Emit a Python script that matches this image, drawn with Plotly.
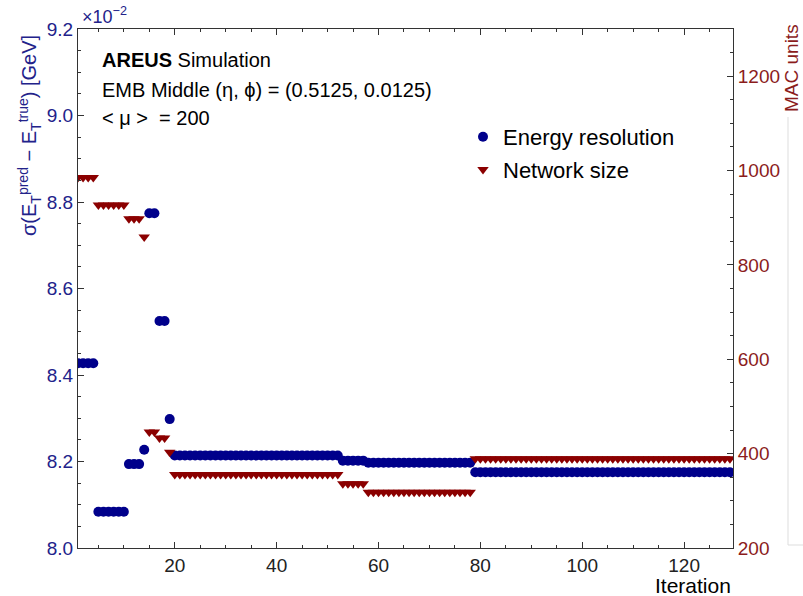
import plotly.graph_objects as go

# ---- data ----
# run-length pairs: (value, number of consecutive iterations)
resolution_runs = [(8.427, 4), (8.084, 6), (8.194, 3), (8.227, 1), (8.774, 2),
                   (8.525, 2), (8.298, 1), (8.214, 33), (8.202, 5), (8.197, 21),
                   (8.175, 51)]
network_runs = [(985, 4), (927, 6), (898, 3), (859, 1), (446, 2), (433, 2),
                (403, 1), (356, 33), (336, 5), (318, 21), (389, 51)]

def expand(runs):
    out = []
    for v, n in runs:
        out.extend([v] * n)
    return out

resolution = expand(resolution_runs)          # in units of 1e-2 GeV
network = expand(network_runs)                # MAC units
iterations = list(range(1, len(resolution) + 1))

x_ticks = [20, 40, 60, 80, 100, 120]
y_ticks = [8.0, 8.2, 8.4, 8.6, 8.8, 9.0, 9.2]
y2_ticks = [200, 400, 600, 800, 1000, 1200]

BLUE = "#00008b"
RED = "#8b0000"
BLUE_TXT = "#22228a"
RED_TXT = "#8b1c1c"
FONT = "Liberation Sans, Arial, Helvetica, sans-serif"

fig = go.Figure()
fig.add_trace(go.Scatter(
    x=iterations, y=resolution, mode="markers", name="Energy resolution",
    marker=dict(symbol="circle", size=10, color=BLUE, line=dict(width=0)),
    yaxis="y", legendgroup="a"))
fig.add_trace(go.Scatter(
    x=iterations, y=network, mode="markers", name="Network size",
    marker=dict(symbol="triangle-down", size=10, color=RED, line=dict(width=0)),
    yaxis="y2", legendgroup="b"))

L, R, T, B = 78, 70, 29, 48
W, H = 803, 596
pw, ph = W - L - R, H - T - B

def px(x):
    return (x - L) / pw

def py(y):
    return (H - B - y) / ph

fig.update_layout(
    width=W, height=H,
    margin=dict(l=L, r=R, t=T, b=B, pad=0),
    paper_bgcolor="white", plot_bgcolor="white",
    font=dict(family=FONT, size=19, color="black"),
    showlegend=True,
    legend=dict(x=px(463), y=py(116), xanchor="left", yanchor="top",
                bgcolor="rgba(0,0,0,0)", font=dict(size=22, color="black"),
                tracegroupgap=1, itemsizing="trace"),
    xaxis=dict(range=[1, 129.6], tickvals=x_ticks, ticks="inside", ticklen=6,
               tickwidth=1, tickcolor="#333", showline=True, linecolor="#333",
               linewidth=1, mirror="ticks", showgrid=False, zeroline=False,
               tickfont=dict(size=19, color="#222"),
               minor=dict(dtick=5, ticks="inside", ticklen=3, tickcolor="#333")),
    yaxis=dict(range=[8.0, 9.2], tickvals=y_ticks, ticktext=[f"{v:.1f}" for v in y_ticks],
               ticks="inside", ticklen=6, tickwidth=1, tickcolor="#333",
               showline=True, linecolor="#333", linewidth=1, showgrid=False,
               zeroline=False, tickfont=dict(size=19, color=BLUE_TXT),
               minor=dict(dtick=0.05, ticks="inside", ticklen=3, tickcolor="#333")),
    yaxis2=dict(range=[200, 1300], tickvals=y2_ticks, overlaying="y", side="right",
                ticks="inside", ticklen=6, tickwidth=1, tickcolor="#333",
                showline=True, linecolor="#333", linewidth=1, showgrid=False,
                zeroline=False, tickfont=dict(size=19, color=RED_TXT),
                minor=dict(dtick=50, ticks="inside", ticklen=3, tickcolor="#333")),
)

ann = [
    dict(text="<b>AREUS</b> Simulation", x=px(100), y=py(60), size=20, color="black",
         xanchor="left", angle=0),
    dict(text="EMB Middle (η, ϕ) = (0.5125, 0.0125)", x=px(100), y=py(90), size=20,
         color="black", xanchor="left", angle=0),
    dict(text="&lt; μ &gt;  = 200", x=px(100), y=py(118), size=20, color="black",
         xanchor="left", angle=0),
    dict(text="×10<sup>−2</sup>", x=px(80), y=py(16), size=18, color=BLUE_TXT,
         xanchor="left", angle=0),
    dict(text="σ(E<sub>T</sub><sup>pred</sup> − E<sub>T</sub><sup>true</sup>) [GeV]",
         x=px(29), y=py(136), size=20, color=BLUE_TXT, xanchor="center", angle=-90),
    dict(text="Iteration", x=px(733), y=py(585), size=21, color="black",
         xanchor="right", angle=0),
    dict(text="MAC units", x=px(791), y=py(68), size=19, color=RED_TXT,
         xanchor="center", angle=-90),
]
for a in ann:
    fig.add_annotation(text=a["text"], x=a["x"], y=a["y"], xref="paper", yref="paper",
                       xanchor=a["xanchor"], yanchor="middle", textangle=a["angle"],
                       showarrow=False, font=dict(family=FONT, size=a["size"], color=a["color"]))

# faint vertical line at far right (artifact in the reference)
fig.add_shape(type="line", xref="paper", yref="paper", x0=px(788), x1=px(788),
              y0=py(117), y1=py(545), line=dict(color="#dddddd", width=1))
fig.add_shape(type="line", xref="paper", yref="paper", x0=px(788), x1=px(803),
              y0=py(545), y1=py(545), line=dict(color="#dddddd", width=1))

fig.write_html("out.html")
